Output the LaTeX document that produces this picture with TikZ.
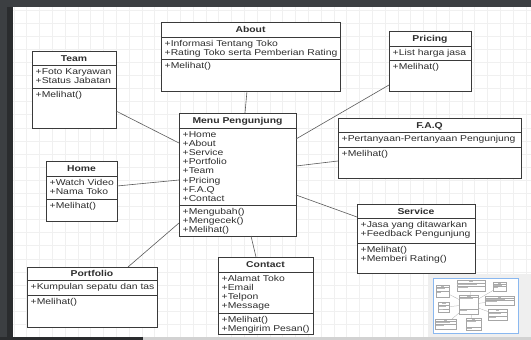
\documentclass[tikz,border=0pt]{standalone}
\usepackage{fontspec}
\setmainfont{Liberation Sans}[FakeStretch=1.22]
\usetikzlibrary{calc,shadows}
\definecolor{boxline}{HTML}{3A3A3A}
\definecolor{txtc}{HTML}{2E2E2E}
\definecolor{conncol}{HTML}{5A5A5A}
\definecolor{gridc}{HTML}{F0F0F0}
\definecolor{framec}{HTML}{3C3F42}
\definecolor{framed}{HTML}{2A2C2E}
\definecolor{mapbg}{HTML}{EFEFEF}
\definecolor{mapblue}{HTML}{8AB8F0}
\tikzset{
  umlbox/.style={draw=boxline, line width=0.7pt, fill=white, inner sep=0pt, outer sep=0pt,
    drop shadow={shadow xshift=1.2pt, shadow yshift=-1.2pt, opacity=0.22}},
  divider/.style={draw=boxline, line width=0.7pt},
  umltitle/.style={anchor=base, inner sep=0pt, font=\fontsize{8.5}{9.14}\selectfont\bfseries, text=txtc},
  umltext/.style={anchor=base west, inner sep=0pt, font=\fontsize{8.5}{9.14}\selectfont, text=txtc},
  conn/.style={draw=conncol, line width=0.6pt},
  mini/.style={draw=gray!70, line width=0.3pt, fill=white},
  miniconn/.style={draw=gray!70, line width=0.25pt}
}
\def\setgeom#1/#2/#3/#4/#5/#6\relax{\def\xa{#1}\def\ya{#2}\def\xb{#3}\def\yb{#4}\def\da{#5}\def\db{#6}}
\newcommand\usegeom[1]{\edef\geomtmp{#1}\expandafter\setgeom\geomtmp\relax}
\def\gAbout{161/22/340/91/37/59}
\def\gPricing{389/31/471/91/46/60}
\def\gTeam{32/51/116/128/65/88}
\def\gMenu{179/113/296/236/128/205}
\def\gHome{46/161/117/221/176/199}
\def\gFaq{338/118/521/178/132/147}
\def\gService{357/204/475/273/218/243}
\def\gPortfolio{27/267/157/327/280/295}
\def\gContact{218/257/313/334/272/313}
\newcommand\umlbox[5]{%
  \usegeom{#2}%
  \node[umlbox, minimum width={(\xb-\xa)*1pt}, minimum height={(\yb-\ya)*1pt}, anchor=north west] (#1) at (\xa,\ya) {};
  \draw[divider] (\xa,\da) -- (\xb,\da);
  \draw[divider] (\xa,\db) -- (\xb,\db);
  \node[umltitle] (#1-t) at ({(\xa+\xb)/2},{(\ya+\da)/2+3}) {#3};
  \foreach \t [count=\i] in {#4} \node[umltext] (#1-a\i) at ({\xa+3.5},{\da+9.3+(\i-1)*9.14}) {\t};
  \foreach \t [count=\i] in {#5} \node[umltext] (#1-m\i) at ({\xa+3.5},{\db+9.3+(\i-1)*9.14}) {\t};
}
\begin{document}
\begin{tikzpicture}[x=1pt,y=-1pt]
\useasboundingbox (0,0) rectangle (531,340);
\fill[white] (0,0) rectangle (531,340);
% grid
\foreach \k in {0,...,40} \draw[gridc, line width=0.5pt] ({13.9+12.8*\k},7) -- ({13.9+12.8*\k},337);
\foreach \k in {0,...,24} \draw[gridc, line width=0.5pt] (13,{9.9+13.1*\k}) -- (531,{9.9+13.1*\k});
% frame
\fill[framec] (0,0) rectangle (531,7);
\fill[framec] (0,0) rectangle (13,340);
\fill[framed] (7,7) rectangle (13,340);
\fill[gray!35] (13,337) rectangle (531,340);
\fill[framed] (0,337) rectangle (143,340);

% boxes
\umlbox{about}{\gAbout}{About}{+Informasi Tentang Toko,+Rating Toko serta Pemberian Rating}{+Melihat()}
\umlbox{pricing}{\gPricing}{Pricing}{+List harga jasa}{+Melihat()}
\umlbox{team}{\gTeam}{Team}{+Foto Karyawan,+Status Jabatan}{+Melihat()}
\umlbox{menu}{\gMenu}{Menu Pengunjung}{+Home,+About,+Service,+Portfolio,+Team,+Pricing,+F.A.Q,+Contact}{+Mengubah(),+Mengecek(),+Melihat()}
\umlbox{home}{\gHome}{Home}{+Watch Video,+Nama Toko}{+Melihat()}
\umlbox{faq}{\gFaq}{F.A.Q}{+Pertanyaan-Pertanyaan Pengunjung}{+Melihat()}
\umlbox{service}{\gService}{Service}{+Jasa yang ditawarkan,+Feedback Pengunjung}{+Melihat(),+Memberi Rating()}
\umlbox{portfolio}{\gPortfolio}{Portfolio}{+Kumpulan sepatu dan tas}{+Melihat()}
\umlbox{contact}{\gContact}{Contact}{+Alamat Toko,+Email,+Telpon,+Message}{+Melihat(),+Mengirim Pesan()}

% connectors
\draw[conn] ($(team.north east)+(0,60)$) -- ($(menu.north west)+(0,30)$);
\draw[conn] ($(about.south west)+(86,0)$) -- ($(menu.north west)+(66,0)$);
\draw[conn] ($(pricing.north west)+(0,54)$) -- ($(menu.north east)+(0,26)$);
\draw[conn] ($(faq.north west)+(0,43)$) -- ($(menu.north east)+(0,53)$);
\draw[conn] ($(service.north west)+(0,13)$) -- ($(menu.north east)+(0,82)$);
\draw[conn] ($(home.north east)+(0,25)$) -- ($(menu.north west)+(0,67)$);
\draw[conn] ($(portfolio.north west)+(101,0)$) -- ($(menu.north west)+(0,110)$);
\draw[conn] ($(contact.north west)+(38,0)$) -- ($(menu.south west)+(72,0)$);

% minimap
\fill[mapbg] (428,274) rectangle (531,337);
\fill[white] (433,278) rectangle (518,333);
\begin{scope}[shift={(430.9,276.8)}, scale=0.16]
  \foreach \pa/\pb/\pc/\pd in {116/111/179/143, 247/91/245/113, 389/85/296/139, 338/161/296/166,
      357/217/296/195, 117/186/179/180, 128/267/179/223, 256/257/251/236}
    \draw[miniconn] (\pa,\pb) -- (\pc,\pd);
  \foreach \g in {\gAbout,\gPricing,\gTeam,\gMenu,\gHome,\gFaq,\gService,\gPortfolio,\gContact}{
    \usegeom{\g}
    \draw[mini] (\xa,\ya) rectangle (\xb,\yb);
    \draw[miniconn] (\xa,\da) -- (\xb,\da) (\xa,\db) -- (\xb,\db);
    \draw[gray!55, line width=0.6pt] ({\xa+5},{\da+7}) -- ({\xa+(\xb-\xa)*0.7},{\da+7});
    \draw[gray!55, line width=0.6pt] ({\xa+5},{\db+7}) -- ({\xa+(\xb-\xa)*0.4},{\db+7});
    \draw[gray!55, line width=0.6pt] ({(\xa+\xb)/2-10},{(\ya+\da)/2}) -- ({(\xa+\xb)/2+10},{(\ya+\da)/2});
  }
\end{scope}
\draw[mapblue, line width=0.9pt] (433,278) rectangle (518,333);
\end{tikzpicture}
\end{document}
